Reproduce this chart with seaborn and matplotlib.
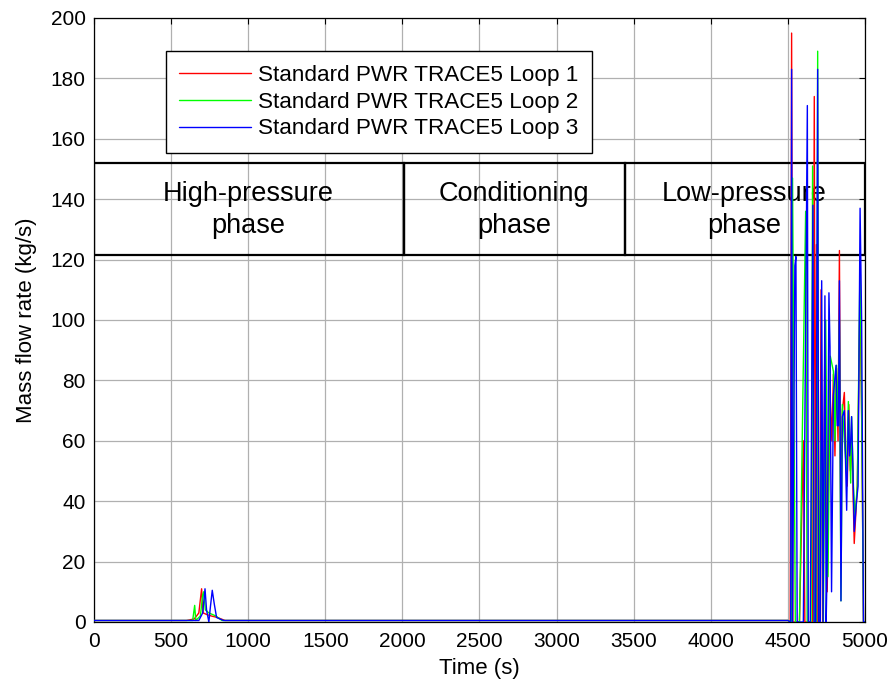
import pandas as pd
import numpy as np
import seaborn as sns
import matplotlib.pyplot as plt
from matplotlib.patches import Rectangle

# ---- data ----
loop1_t = [0, 600, 650, 680, 698, 708, 730, 760, 800, 850, 4500,
           4515, 4524, 4532, 4560, 4575, 4600, 4610, 4640, 4660, 4671, 4678, 4685,
           4690, 4705, 4715, 4725, 4740, 4755, 4770, 4785, 4795, 4805, 4815, 4825,
           4834, 4842, 4853, 4866, 4875, 4885, 4895, 4905, 4915, 4930, 4950, 4968,
           4980, 4990, 5000]
loop1_v = [0.5, 0.5, 1, 3, 11, 3, 2.5, 2, 1.5, 0.5, 0.5,
           0, 195, 0, 0, 0, 60, 0, 0, 0, 174, 0, 125,
           0, 0, 110, 0, 95, 10, 80, 60, 82, 55, 84, 60,
           123, 40, 70, 76, 55, 45, 72, 50, 60, 26, 45, 110,
           60, 0, 0]

loop2_t = [0, 640, 653, 660, 690, 705, 712, 722, 745, 790, 830, 4500,
           4522, 4530, 4548, 4560, 4575, 4615, 4625, 4650, 4660, 4668, 4685, 4693,
           4700, 4715, 4730, 4745, 4760, 4775, 4795, 4805, 4815, 4825, 4834, 4844,
           4853, 4866, 4880, 4892, 4907, 4913, 4925, 4935, 4950, 4968, 4980, 4990, 5000]
loop2_v = [0.5, 0.5, 5.5, 0.5, 2, 9, 10, 4, 3, 2, 0.5, 0.5,
           0, 147, 0, 0, 0, 136, 0, 0, 151, 0, 0, 189,
           0, 60, 0, 100, 15, 88, 83, 60, 85, 65, 100, 7,
           72, 60, 50, 73, 46, 68, 45, 35, 45, 120, 60, 0, 0]

loop3_t = [0, 680, 705, 720, 730, 745, 755, 767, 780, 795, 840, 4500,
           4518, 4524, 4530, 4545, 4552, 4560, 4600, 4626, 4632, 4645, 4662, 4670,
           4680, 4693, 4700, 4710, 4719, 4728, 4740, 4748, 4755, 4766, 4773, 4783,
           4795, 4812, 4820, 4828, 4834, 4844, 4853, 4866, 4881, 4892, 4900, 4907,
           4913, 4922, 4930, 4945, 4955, 4968, 4978, 4990, 5000]
loop3_v = [0.5, 0.5, 3, 11, 4, 0, 5, 10.5, 6, 1.5, 0.5, 0.5,
           0, 183, 0, 118, 121, 0, 0, 171, 0, 0, 138, 0,
           0, 183, 0, 0, 113, 0, 108, 0, 20, 109, 91, 10,
           75, 85, 65, 65, 113, 7, 68, 70, 37, 70, 55, 60,
           68, 50, 30, 40, 45, 137, 100, 0, 0]

loop_names = ["Standard PWR TRACE5 Loop 1", "Standard PWR TRACE5 Loop 2",
              "Standard PWR TRACE5 Loop 3"]
phase_names = ["High-pressure\nphase", "Conditioning\nphase", "Low-pressure\nphase"]
phase_edges = [0, 2010, 3445, 5000]

df = pd.concat([
    pd.DataFrame({"t": loop1_t, "m": loop1_v, "loop": loop_names[0]}),
    pd.DataFrame({"t": loop2_t, "m": loop2_v, "loop": loop_names[1]}),
    pd.DataFrame({"t": loop3_t, "m": loop3_v, "loop": loop_names[2]}),
])

sns.set_theme(style="white")
plt.rcParams['font.family'] = ['Liberation Sans', 'DejaVu Sans']
plt.rcParams['text.color'] = 'black'
plt.rcParams['axes.labelcolor'] = 'black'

fig = plt.figure(figsize=(8.95, 6.86), dpi=100)
ax = fig.add_axes([0.105, 0.0933, 0.8615, 0.8805])

# phase boxes (behind the curves)
box_lo, box_hi = 121.5, 152
for i in range(3):
    ax.add_patch(Rectangle((phase_edges[i], box_lo), phase_edges[i + 1] - phase_edges[i],
                           box_hi - box_lo, fill=False, edgecolor="black", lw=1.6, zorder=2))
    ax.text((phase_edges[i] + phase_edges[i + 1]) / 2 - 5, 136.5, phase_names[i],
            ha="center", va="center", fontsize=19.5, linespacing=1.3, zorder=2)

sns.lineplot(data=df, x="t", y="m", hue="loop", palette=["#ff0000", "#00ff00", "#0000ff"],
             estimator=None, sort=False, lw=1.0, ax=ax, zorder=3)

ax.set_xlim(0, 5000)
ax.set_ylim(0, 200)
ax.set_xticks(range(0, 5001, 500))
ax.set_yticks(range(0, 201, 20))
ax.grid(True, color="#b0b0b0", lw=0.9)
ax.set_axisbelow(True)
ax.tick_params(direction="in", length=4, width=0.8, top=True, right=True,
               labelsize=15, colors="black")
ax.tick_params(axis="x", pad=7)
ax.tick_params(axis="y", pad=6)
for s in ax.spines.values():
    s.set_color("black")
    s.set_linewidth(0.9)
ax.set_xlabel("Time (s)", fontsize=16, labelpad=5)
ax.set_ylabel("Mass flow rate (kg/s)", fontsize=16, labelpad=10)

leg = ax.legend(loc="upper left", bbox_to_anchor=(0.0934, 0.945), borderaxespad=0,
                fontsize=16.2, frameon=True, fancybox=False, framealpha=1,
                edgecolor="black", handlelength=3.2, handletextpad=0.3,
                labelspacing=0.26, borderpad=0.6)
leg.get_frame().set_linewidth(1.0)
leg.set_zorder(5)

fig.savefig("out.png", dpi=100)
